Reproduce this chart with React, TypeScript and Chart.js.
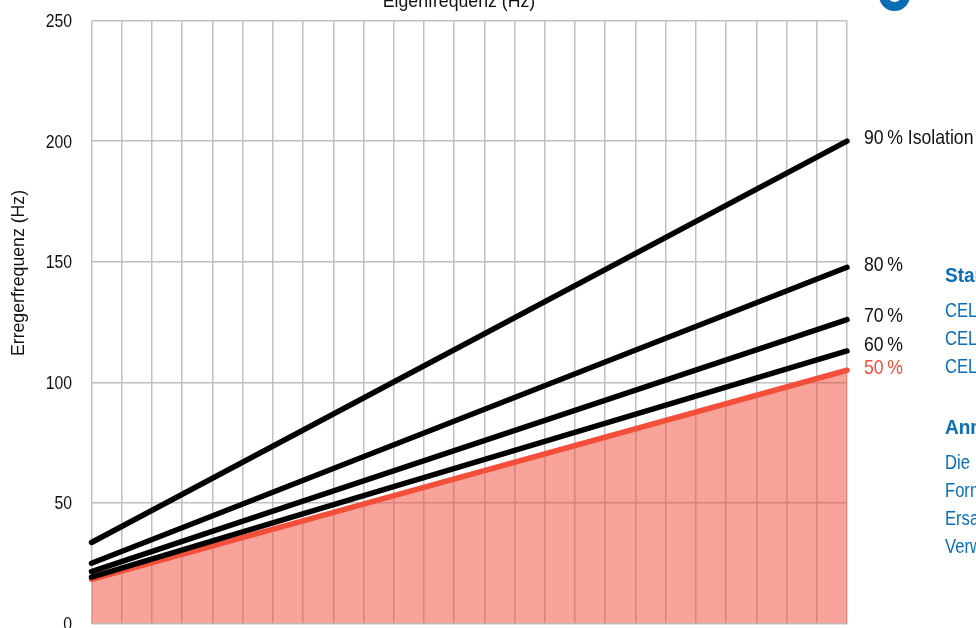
import React, { useEffect, useRef } from "react";
import { Chart, registerables } from "chart.js";

Chart.register(...registerables);

const eigenfrequency = [10, 60];
const iso90 = [33.6, 200];
const iso80 = [25, 147.7];
const iso70 = [21.5, 126];
const iso60 = [19.2, 113];
const iso50 = [18.3, 105];
const yTicks = [0, 50, 100, 150, 200, 250];

const FONT = '"Liberation Sans", sans-serif';
const BLUE = "#0A6EB4";
const RED = "#F44F3B";
const OFFSET_Y = 20;

const rowLabels: [string, number, string][] = [
  ["90\u2009% Isolation", 138, "#111"],
  ["80\u2009%", 265, "#111"],
  ["70\u2009%", 316, "#111"],
  ["60\u2009%", 345, "#111"],
  ["50\u2009%", 368, RED],
];
const sideTexts: [string, number, boolean][] = [
  ["Standard", 276, true],
  ["CEL", 311, false],
  ["CEL", 339, false],
  ["CEL", 367, false],
  ["Anmerkung", 428, true],
  ["Die", 463, false],
  ["Form", 491, false],
  ["Ersatz", 519, false],
  ["Verw", 547, false],
];

function squeezed(c: any, text: string, x: number, y: number, sx: number) {
  c.save();
  c.translate(x, y);
  c.scale(sx, 1);
  c.fillText(text, 0, 0);
  c.restore();
}

const textPlugin = {
  id: "textPlugin",
  afterDraw(chart: any) {
    const c = chart.ctx;
    c.save();
    c.textBaseline = "middle";
    c.textAlign = "left";
    c.font = `21px ${FONT}`;
    for (const [t, y, col] of rowLabels) {
      c.fillStyle = col;
      squeezed(c, t, 864, y + OFFSET_Y, 0.84);
    }
    for (const [t, y, bold] of sideTexts) {
      c.fillStyle = BLUE;
      c.font = `${bold ? "bold " : ""}20px ${FONT}`;
      squeezed(c, t, 945, y + OFFSET_Y, bold ? 0.95 : 0.83);
    }

    // y axis tick labels, placed by the chart's own scale
    c.fillStyle = "#111";
    c.font = `19px ${FONT}`;
    c.textAlign = "right";
    const yScale = chart.scales.y;
    for (const v of yTicks) {
      squeezed(c, String(v), 72, yScale.getPixelForValue(v) + 1.3, 0.83);
    }

    c.font = `17.7px ${FONT}`;
    c.textAlign = "center";
    c.fillText("Eigenfrequenz (Hz)", 459, 2.5 + OFFSET_Y);
    c.translate(19, 273 + OFFSET_Y);
    c.rotate(-Math.PI / 2);
    c.fillText("Erregerfrequenz (Hz)", 0, 0);
    c.restore();

    c.save();
    c.fillStyle = BLUE;
    c.beginPath();
    c.arc(894.5, -4.5 + OFFSET_Y, 15.5, 0, Math.PI * 2);
    c.fill();
    c.fillStyle = "#fff";
    c.font = `bold 22px ${FONT}`;
    c.textAlign = "center";
    c.textBaseline = "middle";
    c.fillText("8", 894.5, -4.5 + OFFSET_Y);
    c.restore();
  },
};

export default function App() {
  const ref = useRef<HTMLCanvasElement>(null);
  useEffect(() => {
    document.body.style.overflow = "hidden";
    const line = (label: string, data: number[], color: string, extra: object = {}) => ({
      label,
      data: eigenfrequency.map((x, i) => ({ x, y: data[i] })),
      borderColor: color,
      borderWidth: 5.5,
      borderCapStyle: "round",
      pointRadius: 0,
      fill: false,
      clip: false,
      ...extra,
    });
    const chart = new Chart(ref.current as HTMLCanvasElement, {
      type: "line",
      data: {
        datasets: [
          line("90%", iso90, "#000"),
          line("80%", iso80, "#000"),
          line("70%", iso70, "#000"),
          line("60%", iso60, "#000"),
          line("50%", iso50, RED, { fill: "origin", backgroundColor: "rgba(240,72,52,0.5)" }),
        ] as any,
      },
      options: {
        animation: false,
        responsive: false,
        layout: { padding: { left: 0, right: 129, top: 40.5, bottom: 56.5 } },
        plugins: { legend: { display: false }, tooltip: { enabled: false } },
        scales: {
          x: {
            type: "linear",
            min: 10,
            max: 60,
            ticks: { display: false, stepSize: 2 },
            border: { display: false },
            grid: { color: "#BFC0C2", lineWidth: 1.5, drawTicks: false },
          },
          y: {
            min: 0,
            max: 250,
            afterFit: (s: any) => {
              s.width = 91.5;
            },
            afterBuildTicks: (s: any) => {
              s.ticks = yTicks.map((value) => ({ value }));
            },
            ticks: { display: false },
            border: { display: false },
            grid: { color: "#BFC0C2", lineWidth: 1.5, drawTicks: false },
          },
        },
      },
      plugins: [textPlugin],
    } as any);
    return () => chart.destroy();
  }, []);
  return (
    <canvas
      ref={ref}
      width={976}
      height={700}
      style={{ position: "fixed", left: 0, top: -OFFSET_Y, width: 976, height: 700 }}
    />
  );
}
